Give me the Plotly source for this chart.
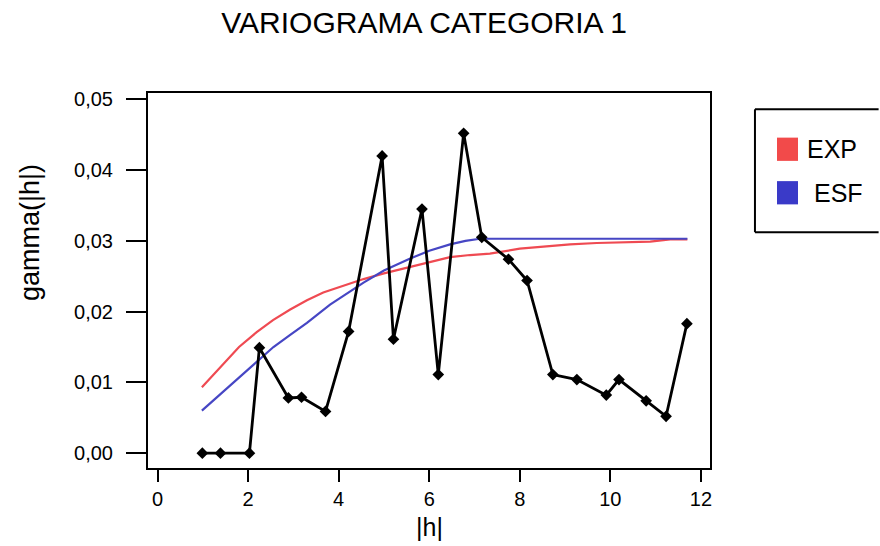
import plotly.graph_objects as go

# Experimental variogram: lag distance |h| and semivariance gamma(|h|)
lag = [0.99, 1.39, 2.03, 2.25, 2.89, 3.18, 3.71, 4.22, 4.96, 5.21, 5.84, 6.20,
       6.76, 7.16, 7.75, 8.16, 8.73, 9.26, 9.91, 10.19, 10.79, 11.23, 11.69]
gamma = [0.0, 0.0, 0.0, 0.0149, 0.0078, 0.0079, 0.0059, 0.0172, 0.0420, 0.0161,
         0.0345, 0.0111, 0.0452, 0.0305, 0.0274, 0.0244, 0.0111, 0.0104, 0.0082,
         0.0104, 0.0074, 0.0052, 0.0183]

# Fitted exponential model (EXP)
exp_h = [0.98, 1.45, 1.80, 2.19, 2.55, 2.93, 3.30, 3.66, 4.25, 4.55, 5.00, 5.58,
         6.00, 6.46, 6.90, 7.34, 8.00, 8.50, 9.11, 9.70, 10.22, 10.88, 11.32, 11.70]
exp_g = [0.0093, 0.0126, 0.0150, 0.0171, 0.0188, 0.0203, 0.0216, 0.0227, 0.0240,
         0.0246, 0.0254, 0.0263, 0.0270, 0.0277, 0.0280, 0.0282, 0.0289, 0.0292,
         0.0295, 0.0297, 0.0298, 0.0299, 0.0302, 0.0302]

# Fitted spherical model (ESF)
esf_h = [0.98, 1.40, 1.82, 2.20, 2.56, 2.93, 3.30, 3.81, 4.25, 4.55, 5.00, 5.58,
         6.00, 6.46, 6.80, 7.12, 9.00, 11.70]
esf_g = [0.0060, 0.0084, 0.0107, 0.0129, 0.0150, 0.0167, 0.0184, 0.0210, 0.0229,
         0.0241, 0.0258, 0.0275, 0.0286, 0.0295, 0.0300, 0.0303, 0.0303, 0.0303]

model_names = ["EXP", "ESF"]
model_colors = ["#ef4a52", "#4646c4"]
swatch_colors = ["#f24a4a", "#3a3ac8"]

x_ticks = [0, 2, 4, 6, 8, 10, 12]
y_ticks = [0.0, 0.01, 0.02, 0.03, 0.04, 0.05]

FONT = "Liberation Sans, Arial, sans-serif"

fig = go.Figure()

fig.add_trace(go.Scatter(x=exp_h, y=exp_g, mode="lines", name=model_names[0],
                         line=dict(color=model_colors[0], width=2.2),
                         showlegend=False))
fig.add_trace(go.Scatter(x=esf_h, y=esf_g, mode="lines", name=model_names[1],
                         line=dict(color=model_colors[1], width=2.2),
                         showlegend=False))
fig.add_trace(go.Scatter(x=lag, y=gamma, mode="lines+markers", name="gamma",
                         line=dict(color="black", width=2.8),
                         marker=dict(symbol="diamond", size=9, color="black"),
                         showlegend=False))

fig.update_layout(
    width=880, height=546,
    margin=dict(l=148, r=170, t=93, b=78),
    paper_bgcolor="white", plot_bgcolor="white",
    separators=",.",
    font=dict(family=FONT, color="black", size=20),
    title=dict(text="VARIOGRAMA CATEGORIA 1", x=0.482, xanchor="center",
               y=0.958, yanchor="middle", font=dict(size=30, family=FONT)),
    xaxis=dict(range=[-0.21, 12.2], tickvals=x_ticks, ticks="outside", ticklen=12,
               tickwidth=1.5, tickcolor="black", showline=True, linecolor="black",
               linewidth=2, mirror=True, showgrid=False, zeroline=False,
               tickfont=dict(size=20)),
    yaxis=dict(range=[-0.0021, 0.0509], tickvals=y_ticks, tickformat=".2f",
               ticks="outside", ticklen=20, tickwidth=1.5, tickcolor="black",
               showline=True, linecolor="black", linewidth=2, mirror=True,
               showgrid=False, zeroline=False, tickfont=dict(size=20),
               ticklabelstandoff=9),
)

# Axis titles
fig.add_annotation(text="|h|", xref="paper", yref="paper", x=0.5, y=-0.157,
                   showarrow=False, font=dict(size=25), xanchor="center",
                   yanchor="middle")
fig.add_annotation(text="gamma(|h|)", xref="paper", yref="paper", x=-0.21,
                   y=0.629, showarrow=False, textangle=-90, font=dict(size=27),
                   xanchor="center", yanchor="middle")

# Legend frame: top, left and bottom edges, running off the right page edge
frame_edges = [(1.080, 0.9566, 1.30, 0.9566),
               (1.080, 0.6288, 1.080, 0.9566),
               (1.080, 0.6288, 1.30, 0.6288)]
for x0, y0, x1, y1 in frame_edges:
    fig.add_shape(type="line", xref="paper", yref="paper", x0=x0, y0=y0,
                  x1=x1, y1=y1, line=dict(color="black", width=2))
swatch_y = [0.850, 0.734]
text_x = [1.169, 1.1815]
for name, col, sy, tx in zip(model_names, swatch_colors, swatch_y, text_x):
    fig.add_shape(type="rect", xref="paper", yref="paper", x0=1.1192, x1=1.1566,
                  y0=sy - 0.031, y1=sy + 0.031, line=dict(width=0), fillcolor=col)
    fig.add_annotation(text=name, xref="paper", yref="paper", x=tx, y=sy,
                       showarrow=False, xanchor="left", yanchor="middle",
                       font=dict(size=25))

fig.write_html("out.html")
